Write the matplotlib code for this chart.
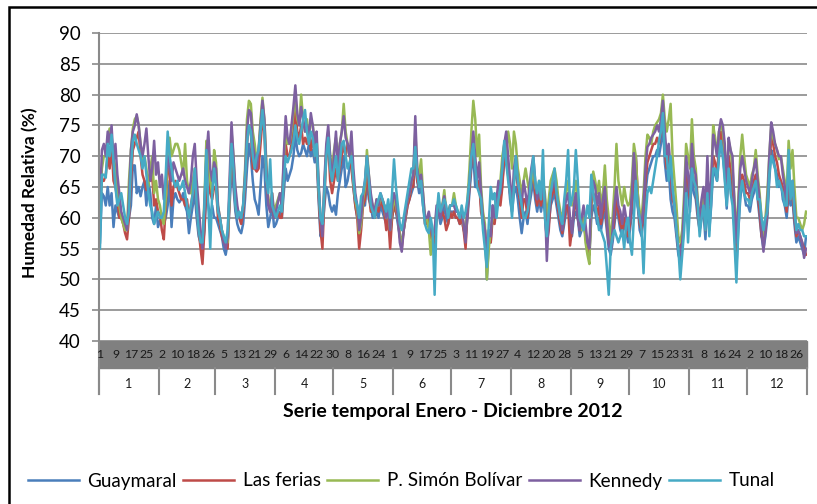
import numpy as np
import matplotlib
matplotlib.use('Agg')
import matplotlib.pyplot as plt
from matplotlib.patches import Rectangle

plt.rcParams['font.family'] = ['Lato', 'DejaVu Sans']

# daily relative humidity (%) 2012, one row per month
guaymaral = [
    56, 64, 63.5, 62, 65, 62, 64, 58.5, 62, 61, 60, 60, 60, 59, 60, 60, 62, 68.5, 68.5, 64, 65, 63.5, 65, 66, 62, 66, 64, 60, 59, 62, 58.5,
    59.5, 60, 59, 60, 62, 66, 58.5, 63, 64, 63, 62.5, 63, 64, 62, 61, 57.5, 60, 62, 64, 60, 57, 56, 55, 58, 64, 62, 60, 62, 60,
    60, 59, 58, 57, 55, 54, 56, 62, 68, 65, 61, 59, 58, 57.5, 59, 63, 68, 72, 70, 66, 63, 62, 60.5, 65, 70, 68, 62, 58.5, 60, 62, 58.5,
    59, 60, 61, 60, 64, 68, 66, 67, 68, 70, 73.5, 71, 70, 70.5, 72, 71, 70, 72, 70, 71, 69, 70, 63, 57, 58, 62, 65, 64, 62, 61,
    62, 60.5, 64, 66, 68, 70, 65, 66, 68, 70, 65, 62, 60, 60, 61, 62, 62, 66, 63, 62, 60, 60, 61, 60, 62, 61, 60, 59, 60, 57, 60,
    62, 61, 59, 57, 56, 58, 60, 62, 63, 64, 65, 70, 66, 64, 65, 62, 60, 59, 60, 58, 56, 55, 60, 61, 59, 60, 62, 60, 59, 61,
    61, 61, 60, 60, 59, 60, 58, 57, 60, 64, 68, 70, 65, 65, 66, 62, 59, 58, 50, 56, 56, 62, 60, 62, 63, 63, 66, 69, 69, 67, 63,
    61, 64, 65, 63, 60, 57.5, 60, 61, 59, 62, 64, 66, 63, 61, 63, 61, 63, 61, 56, 59, 62, 63, 64, 62, 60, 58, 57, 59, 61, 62, 59,
    57, 60, 61, 60, 57, 58, 60, 57, 55, 54, 60, 62, 61, 59, 60, 58, 60, 61, 58, 55, 54, 56, 59, 62, 60, 58, 57, 59, 58, 56,
    58, 61, 66, 70, 62, 58, 57, 60, 64, 67, 68, 69, 70, 70, 71, 70, 72, 75, 69, 66, 68, 63, 61, 60, 57, 54, 53, 55, 60, 66, 64,
    61, 67, 64, 63, 60, 58, 60, 61, 56.5, 63, 58, 62, 68, 67, 66, 70, 72, 70, 67, 61.5, 68, 66, 64, 58, 52, 58, 63, 66, 64, 62,
    62, 61, 63, 64, 66, 63, 60, 57, 55, 57, 60, 66, 71, 70, 68, 67, 65, 66, 63, 62, 60, 64, 62, 63, 59, 56, 57, 56, 55, 54, 57,
]
las_ferias = [
    62, 66, 66, 67, 70, 68, 72, 66, 65, 63, 60, 60, 59, 57.5, 56.5, 60, 66, 71, 72, 73, 74, 70, 67, 66, 64.5, 66, 66, 67, 62, 63, 61,
    60.5, 58, 56.5, 62, 68, 68, 62, 65, 66, 65, 64, 63, 63, 62, 63, 60, 62, 64, 66, 62, 58, 55, 52.5, 58, 66, 70, 64, 63, 65,
    65, 60, 59, 57, 56, 55.5, 55, 63, 72, 67, 62, 60, 60, 59, 61, 65, 72, 75, 74, 68, 68, 67.5, 68, 72, 76, 74, 66, 63, 61, 63, 60,
    60, 61, 60, 60, 66, 72, 70, 70, 72, 74, 77.5, 74, 73, 75, 72, 73, 72, 74, 71, 73, 70, 71, 64, 58, 55, 63, 70, 72, 66, 64,
    66, 68, 66, 68, 70, 72, 70, 72, 71, 68, 65, 62, 60, 55, 58, 62, 63, 68, 64, 61, 61, 60, 62, 61, 63, 62, 61, 58, 60, 55, 60,
    62, 61, 60, 57, 55, 58, 60, 62, 63, 65, 65, 73, 66, 65, 66, 63, 59, 59, 60, 57, 56, 56, 60, 62, 60, 61, 60, 58, 59, 61,
    60, 61, 60, 60, 59, 60, 58, 55, 61, 65, 69, 71, 68, 65, 66, 61, 59.5, 58, 52, 57, 56, 60, 59, 62, 63, 62, 65, 70, 72, 68, 64,
    62, 66, 68, 65, 63, 60, 63, 63, 60, 63, 66, 68, 64, 62, 64, 62, 64, 62, 56, 58, 63, 64, 65, 63, 61, 59, 57.5, 60, 62, 62, 55.5,
    58, 61, 63, 60, 58, 59, 60, 57, 55, 54, 62, 64, 63, 60, 62, 59, 61, 63, 59, 56, 55, 57, 60, 63, 61, 59, 58, 60, 58, 57,
    59, 63, 68, 70, 64, 59, 58, 61, 66, 69, 70, 71, 72, 72, 73, 72, 74, 77, 71, 68, 70, 67, 63, 62, 58, 55, 55, 57, 61, 68, 66,
    63, 70, 66, 65, 61, 58, 61, 63, 58, 66, 60, 64, 70, 69, 66.5, 72, 74, 72, 69, 63, 70, 68, 66, 60, 54, 60, 66, 67, 66, 64,
    64, 63, 64, 66, 67, 64, 61, 57, 56, 58, 61, 68, 73, 72, 70, 69, 67, 66, 65, 63, 61, 66, 63, 64, 60, 57, 58, 57, 56, 55, 54,
]
simon_bolivar = [
    62, 68, 70, 70, 73, 74.5, 73, 70, 68, 64, 62, 60, 59, 58, 58, 66, 71, 74.5, 76, 76.5, 75, 72, 69, 70, 68, 65, 68, 70, 64, 66, 63,
    62, 60, 59, 63, 70, 73, 70, 71, 72, 72, 71, 69, 67, 72, 66, 64, 64, 66, 68, 64, 60, 57, 56, 63, 72.5, 71, 66, 64, 71,
    69, 62, 60, 58, 57, 56, 56, 64, 74, 70, 64, 61, 60, 60, 62, 68, 76, 79, 78.5, 74, 72, 69, 71, 76, 79.5, 76, 69, 63, 62, 64, 61,
    62, 63, 64, 62, 69, 74, 72, 72, 74, 77, 79, 76, 75, 80, 76, 74, 76, 73, 76, 75, 72, 73, 65, 60, 58, 65, 71, 74, 70, 68,
    71, 73, 70, 72, 74, 78.5, 74, 72, 70, 72, 66, 63, 61, 57.5, 59, 63, 65, 71, 67, 63, 62, 61, 63, 62, 63, 63, 62, 60, 61, 58, 61,
    63, 62, 60, 57, 56, 58, 61, 63, 64, 66, 67, 74, 68, 67, 69.5, 64, 60, 60, 58, 54, 57, 58, 61, 63, 61, 62, 64.5, 61, 61, 62,
    62, 64, 62, 61, 60, 61, 59, 57, 63, 68, 74, 79, 76, 70, 73.5, 65, 61, 59, 50, 55, 58, 60, 61, 63, 64, 66, 70, 72, 70, 74, 72,
    68, 74, 72, 68, 66, 64, 66, 68, 66, 64, 66, 68, 65, 64, 66, 64, 66, 64, 60, 63, 66, 67, 68, 66, 63, 61, 60, 62, 64, 66, 63,
    62, 64, 66, 63, 60, 58, 60, 56, 54, 52.5, 63, 67.5, 66, 64, 66, 62, 64, 68.5, 63, 60, 56, 60, 65, 72, 66, 64, 62, 65, 63, 62,
    62.5, 66, 72, 70, 64, 61, 60, 64, 70, 73.5, 73, 72, 74, 75, 75.5, 76, 77, 80, 76, 74, 76, 78.5, 70, 66, 62, 57, 56, 58, 64, 72, 70,
    68, 76, 70, 68, 63, 60, 62, 64, 60, 67, 62, 66, 75, 73, 70, 74, 75, 74, 71, 66, 72.5, 71, 68, 63, 57, 63, 70, 73.5, 70, 67,
    66, 65, 67, 68, 71, 67, 64, 60, 57, 60, 64, 70, 75, 73, 72, 71, 69.5, 70, 68, 66, 64, 72.5, 68, 71, 65, 60, 60, 59, 58, 59, 61,
]
kennedy = [
    62, 71, 72, 70, 74, 72, 75, 69, 72, 67, 64, 61, 60, 59, 58, 63, 71, 74, 75, 76.8, 75, 72, 70, 72, 74.5, 70, 66, 68, 72.5, 67, 69,
    65, 67, 63, 66, 70, 68, 66, 69, 68, 67, 66, 67, 68, 66, 65, 64, 66, 70, 72, 66, 62, 58, 55, 62, 70, 74, 68, 66, 69,
    68, 62, 60, 58, 56, 55, 57, 66, 75.5, 70, 65, 62, 60, 60, 62, 67, 74, 77.5, 77, 72, 70, 68, 71, 75, 79, 76, 68, 62, 61, 64, 60,
    61, 62.5, 64, 62, 70, 76.5, 73, 72, 75, 78, 81.5, 77, 75, 78, 76, 74, 75, 73, 77, 75, 72, 74, 66, 60, 57, 66, 72, 75, 70, 66,
    70, 74, 68, 72, 74, 76.5, 73, 72, 70, 74, 68, 64, 62, 58, 60, 64, 66, 70, 67, 64, 62, 61, 63, 62, 64, 63, 62, 60, 62, 58, 62,
    64, 63, 60, 56, 54.5, 58, 61, 63, 64, 66, 67, 76.5, 68, 66, 67, 64, 60, 60, 61, 59, 57, 58, 62, 61, 60, 62, 63.5, 61, 60, 62,
    62, 62, 61, 61, 60, 61, 59, 56, 62, 66, 70, 74, 70, 66, 69, 64, 60, 58, 54.5, 58, 57, 62, 60, 63, 66, 64, 68, 72, 74, 70, 66,
    62, 68, 70, 66, 64, 62, 66, 64, 62, 65, 68, 70, 66, 63, 65, 63, 66, 63, 53, 60, 64, 65, 66, 64, 62, 60, 58, 61, 63, 64, 60,
    57.5, 62, 64, 60, 58, 60, 62, 59, 56, 55, 64, 66, 65, 62, 64, 60, 63, 65, 60, 56, 54.5, 58, 62, 65, 62, 61, 59, 62, 60, 58,
    60, 64, 70.5, 66, 62, 60, 59, 62, 68, 71.5, 72, 73, 73.5, 74, 75, 74, 76, 79, 74, 70, 72, 68, 64, 62, 58, 55, 54, 56, 62, 70, 67,
    64, 72, 68, 67, 62, 60, 63, 65, 61, 70, 62, 66, 73.5, 72, 70, 74, 76, 75, 72, 64, 73, 71, 70, 62, 56, 62, 68, 70, 68, 66,
    65, 64, 66, 68, 69.5, 66, 63, 58, 54.5, 58, 62, 70, 75.5, 74, 72, 71, 70, 70, 67, 65, 62, 67.5, 64, 66, 62, 57.5, 58, 57, 56, 53.5, 55,
]
tunal = [
    55, 67, 67, 66.5, 72, 70, 73.5, 69, 65, 62, 63, 64, 62, 60, 59, 61, 68, 72.5, 73.5, 72, 71, 70, 68, 70, 67, 64, 62, 61, 59, 60, 61,
    60, 60, 61, 67, 74, 70, 68, 66, 65, 66, 64.5, 65, 66, 64, 62, 60, 62, 64, 68, 62, 58, 56, 56, 62, 71, 62, 55, 64, 68,
    65, 61, 60, 58, 57, 56, 58, 64, 72, 68, 62, 60, 61, 60, 62, 66, 72, 75, 74, 70, 68, 70, 71, 74, 77.5, 74, 66, 64, 69.5, 62, 61,
    60, 61, 62, 61, 66, 70, 69, 70, 71, 72.5, 75, 73, 72, 74, 76, 77.5, 74, 72, 74, 73, 70, 72, 65, 60, 59, 64, 70, 73, 68, 66,
    68, 70, 66, 69, 72, 72.5, 70, 68, 69, 70, 66, 63, 62, 60, 63.5, 64, 66, 70, 66, 62, 61, 60, 62, 63, 64, 63, 62, 61, 63, 60, 64,
    69.5, 65, 62, 59, 58, 60, 62, 64, 66, 68, 68, 71.5, 67, 65, 66, 62, 59, 58, 57.5, 60, 58, 47.5, 60, 64, 61, 62, 63, 62, 60, 62,
    62, 63, 62, 61, 60, 62, 60, 61, 63, 66, 70, 72, 68, 65, 64, 63, 58, 55, 52, 59, 65, 63, 64, 60, 63, 65, 68, 72.5, 69, 66, 64,
    60, 65, 70, 66, 64, 62, 60, 60, 61, 63, 67, 70, 66, 64, 66, 63, 71, 60, 57, 61, 64, 66, 68, 64, 62, 60, 59, 63, 66, 71, 62,
    63, 65, 71, 66, 60, 59, 58, 60, 62, 60, 67, 64, 62, 60, 58, 58, 57, 56, 52, 47.5, 55, 57, 58, 57, 56, 57, 58, 55, 59, 60,
    56, 54, 60, 66, 62, 60, 58, 51, 60, 64, 65, 64, 66, 68, 70, 72.5, 74, 77, 70, 70, 66, 70, 65, 62, 58, 55, 50, 54, 58, 64, 56,
    62, 68, 66, 65, 62, 57, 60, 62, 58, 64, 57, 63, 68, 68, 66, 70, 72.5, 70, 66, 62, 68, 64, 62, 56, 49.5, 58, 64, 66, 64, 63,
    63, 62, 64, 65, 66, 63, 63, 60, 58, 60, 61, 67, 70, 69, 68, 65, 66, 65, 64, 62, 62, 71, 63, 66, 61, 58, 59, 58, 58, 57, 57,
]

stations = ['Guaymaral', 'Las ferias', 'P. Simón Bolívar', 'Kennedy', 'Tunal']
series = [guaymaral, las_ferias, simon_bolivar, kennedy, tunal]
colors = ['#4a7ebb', '#be4b48', '#98b954', '#7d60a0', '#46aac5']
month_days = [31, 29, 31, 30, 31, 30, 31, 31, 30, 31, 30, 31]
month_labels = [str(m) for m in range(1, 13)]

W, H = 817, 504
fig = plt.figure(figsize=(W / 100, H / 100), dpi=100)
ax = fig.add_axes([99 / W, 1 - 341 / H, 708 / W, 308 / H])

lines = []
for name, vals, c in zip(stations, series, colors):
    ln, = ax.plot(np.arange(len(vals)), vals, color=c, lw=1.8, label=name)
    lines.append(ln)

ndays = sum(month_days)
ax.set_xlim(-0.5, ndays - 0.5)
ax.set_ylim(40, 90)
ax.set_yticks(range(40, 91, 5))
ax.grid(axis='y', color='#8a8a8a', lw=1.2)
ax.set_axisbelow(True)
for s in ax.spines.values():
    s.set_visible(False)
ax.set_xticks([])
ax.tick_params(axis='y', length=5, width=1.2, color='#8a8a8a', pad=8, labelsize=13.5)

ph = 308.0
gray_band = 27 / ph
month_row = 26 / ph
# category band with day numbers
ax.add_patch(Rectangle((0, -gray_band), 1, gray_band, transform=ax.transAxes,
                       color='#808080', clip_on=False, zorder=0))
xt = ax.get_xaxis_transform()
day_of_month = [d for m in month_days for d in range(1, m + 1)]
for i in range(0, ndays, 8):
    ax.text(i, -gray_band / 2, str(day_of_month[i]), transform=xt,
            ha='center', va='center', fontsize=8.8, color='#1a1a1a')

# month row
edges = np.concatenate([[0], np.cumsum(month_days)]) - 0.5
for e in edges:
    ax.plot([e, e], [-gray_band, -gray_band - month_row], transform=xt,
            color='#8a8a8a', lw=1.5, clip_on=False)
for k, lab in enumerate(month_labels):
    ax.text((edges[k] + edges[k + 1]) / 2, -gray_band - 0.6 * month_row, lab,
            transform=xt, ha='center', va='center', fontsize=9, color='#1a1a1a')
ax.plot([0, 0], [1, -gray_band - month_row], transform=ax.transAxes,
        color='#8a8a8a', lw=1.5, clip_on=False)

fig.text(453 / W, 1 - 412 / H, 'Serie temporal Enero - Diciembre 2012',
         ha='center', va='center', fontsize=14, fontweight='bold')
fig.text(30 / W, 1 - 193 / H, 'Humedad Relativa (%)', rotation=90,
         ha='center', va='center', fontsize=12.5, fontweight='bold')

fig.legend(handles=lines, loc='center', bbox_to_anchor=(401 / W, 1 - 481 / H),
           ncol=5, frameon=False, fontsize=13.6, handlelength=2.7,
           handletextpad=0.45, columnspacing=0.35)

fig.add_artist(Rectangle((9 / W, -0.1), 1.2, 1.1 - 7 / H, transform=fig.transFigure,
                         fill=False, edgecolor='black', lw=1.8))

fig.savefig('out.png', dpi=100)
